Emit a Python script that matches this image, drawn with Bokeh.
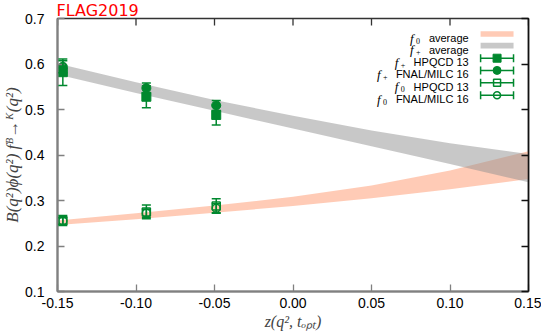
import numpy as np
from bokeh.plotting import figure
from bokeh.models import (Range1d, FixedTicker, PrintfTickFormatter, LinearAxis,
                          CustomJSTickFormatter, ColumnDataSource, Whisker, TeeHead, Label)
from bokeh.embed import file_html
from bokeh.resources import INLINE

# ---------------- data ----------------
z_pts = [-0.1466, -0.0934, -0.0489]
fplus_hpqcd = [0.582, 0.528, 0.488]
fplus_hpqcd_err = [0.029, 0.024, 0.022]
fplus_fnal = [0.594, 0.547, 0.509]
fplus_fnal_err = [0.013, 0.011, 0.011]
f0_hpqcd = [0.256, 0.275, 0.288]
f0_hpqcd_err = [0.011, 0.015, 0.016]
f0_fnal = [0.255, 0.272, 0.283]
f0_fnal_err = [0.007, 0.009, 0.010]

z_band = [-0.15, -0.10, -0.05, 0.0, 0.05, 0.10, 0.15]
fplus_band_hi = [0.601, 0.560, 0.521, 0.486, 0.454, 0.426, 0.402]
fplus_band_lo = [0.577, 0.536, 0.497, 0.458, 0.419, 0.380, 0.340]
f0_band_hi = [0.256, 0.272, 0.289, 0.308, 0.333, 0.366, 0.408]
f0_band_lo = [0.246, 0.259, 0.273, 0.288, 0.305, 0.325, 0.347]

x_ticks = [-0.15, -0.10, -0.05, 0.0, 0.05, 0.10, 0.15]
y_ticks = [0.1, 0.2, 0.3, 0.4, 0.5, 0.6, 0.7]

x_label = "z(q², tₒₚₜ)"
y_label = "B(q²)ϕ(q²) fᴮ→ᴷ(q²)"
logo = "FLAG2019"

legend_texts = ["average", "average", "HPQCD 13", "FNAL/MILC 16", "HPQCD 13", "FNAL/MILC 16"]
legend_subs = ["0", "+", "+", "+", "0", "0"]
legend_kinds = ["band_f0", "band_fp", "sq_fill", "ci_fill", "sq_open", "ci_open"]

# ---------------- style ----------------
GREEN = "#00882e"
PINK, PINK_A = "#ffa07a", 0.55
GREY, GREY_A = "#919191", 0.5
DARK = "#333333"

W, H = 541, 334
BL, BR, BT, BB = 56, 13, 16, 43
FW, FH = W - BL - BR, H - BT - BB
FB = H - BB  # frame bottom in page pixels

p = figure(width=W, height=H, output_backend="svg", toolbar_location=None,
           x_range=Range1d(-0.15, 0.15), y_range=Range1d(0.1, 0.7),
           min_border_left=BL, min_border_right=BR, min_border_top=BT,
           min_border_bottom=BB, background_fill_color="white",
           border_fill_color="white", title=logo)
p.title.text_color = "#ff0000"
p.title.text_font = "DejaVu Sans"
p.title.text_font_size = "16px"
p.title.text_font_style = "normal"
p.title.align = "left"
p.title.standoff = -3
p.title.offset = -1

p.outline_line_color = DARK
p.outline_line_width = 1.5
p.xgrid.visible = False
p.ygrid.visible = False
p.extra_x_ranges = {"lx": Range1d(0, FW)}
p.extra_y_ranges = {"ly": Range1d(0, FH)}

SERIF = "Liberation Serif"
SANS = "Liberation Sans"


def style_axis(ax, color, lw, show, fmt, ticks, standoff):
    ax.ticker = FixedTicker(ticks=ticks)
    if show:
        ax.formatter = PrintfTickFormatter(format=fmt)
    else:
        ax.formatter = CustomJSTickFormatter(code="return ''")
    ax.axis_line_color = color
    ax.axis_line_width = lw
    ax.major_tick_line_color = color
    ax.major_tick_line_width = 1.3
    ax.major_tick_in = 7
    ax.major_tick_out = 0
    ax.minor_tick_line_color = None
    ax.major_label_text_font = SANS
    ax.major_label_text_font_size = "14px"
    ax.major_label_text_color = "black"
    ax.major_label_standoff = standoff


xa = p.xaxis[0]
style_axis(xa, "#808080", 2, True, "%.2f", x_ticks, 6)
xa.axis_label = x_label
xa.axis_label_text_font = SERIF
xa.axis_label_text_font_style = "italic"
xa.axis_label_text_font_size = "16px"
xa.axis_label_standoff = 2

ya = p.yaxis[0]
style_axis(ya, "#808080", 2, True, "%.1f", y_ticks, 13)
ya.axis_label = y_label
ya.axis_label_text_font = SERIF
ya.axis_label_text_font_style = "italic"
ya.axis_label_text_font_size = "17px"
ya.axis_label_standoff = 0

right_ax = LinearAxis()
style_axis(right_ax, "#111111", 1.5, False, "%.1f", y_ticks, 0)
p.add_layout(right_ax, "right")

# top-edge tick marks (mirror of the x ticks), 7 px long, pointing inward
p.segment(x0=x_ticks, x1=x_ticks, y0=[FH] * len(x_ticks), y1=[FH - 7] * len(x_ticks),
          y_range_name="ly", line_color=DARK, line_width=1.3)

# ---------------- bands ----------------
p.varea(x=z_band, y1=f0_band_lo, y2=f0_band_hi, fill_color=PINK, fill_alpha=PINK_A)
p.varea(x=z_band, y1=fplus_band_lo, y2=fplus_band_hi, fill_color=GREY, fill_alpha=GREY_A)


# ---------------- error bars ----------------
def add_err(vals, errs):
    v = np.array(vals)
    e = np.array(errs)
    src = ColumnDataSource(dict(x=z_pts, lower=v - e, upper=v + e))
    w = Whisker(source=src, base="x", lower="lower", upper="upper",
                dimension="height", line_color=GREEN, line_width=1.5, level="overlay",
                upper_head=TeeHead(size=9, line_color=GREEN, line_width=1.5),
                lower_head=TeeHead(size=9, line_color=GREEN, line_width=1.5))
    p.add_layout(w)


for vals, errs in [(fplus_hpqcd, fplus_hpqcd_err), (fplus_fnal, fplus_fnal_err),
                   (f0_hpqcd, f0_hpqcd_err), (f0_fnal, f0_fnal_err)]:
    add_err(vals, errs)

p.scatter(z_pts, fplus_hpqcd, marker="square", size=9, color=GREEN)
p.scatter(z_pts, fplus_fnal, marker="circle", size=9, color=GREEN)
p.scatter(z_pts, f0_hpqcd, marker="square", size=8, line_color=GREEN,
          fill_color=None, line_width=1.5)
p.scatter(z_pts, f0_fnal, marker="circle", size=8, line_color=GREEN,
          fill_color=None, line_width=1.5)

# ---------------- text helpers ----------------
ARIAL = {'a': 556, 'v': 500, 'e': 556, 'r': 333, 'g': 556, 'H': 722, 'P': 667,
         'Q': 778, 'C': 722, 'D': 722, '1': 556, '3': 556, '6': 556, 'F': 611,
         'N': 722, 'A': 667, 'L': 556, '/': 278, 'M': 833, 'I': 278, ' ': 278}


def tw(s, table, size):
    return sum(table.get(c, 556) for c in s) * size / 1000.0


def lab(x, y, text, font, size, style="normal", align="left",
        baseline="alphabetic", color="black"):
    p.add_layout(Label(x=x, y=y, x_range_name="lx", y_range_name="ly", text=text,
                       text_font=font, text_font_size=f"{size}px",
                       text_font_style=style, text_align=align,
                       text_baseline=baseline, text_color=color))


# ---------------- legend ----------------
row_y = [FB - yw for yw in [31.7, 43.3, 56.0, 68.3, 80.7, 93.3]]
text_right = 468 - BL
sx0, sx1 = 480 - BL, 513 - BL
sxc = (sx0 + sx1) / 2

for txt, sub, kind, ry in zip(legend_texts, legend_subs, legend_kinds, row_y):
    wt = tw(txt, ARIAL, 11)
    tstart = text_right - wt
    lab(text_right, ry - 4, txt, SANS, 11, align="right")
    lab(tstart - 19, ry - 4, "f", SERIF, 13, style="italic")
    lab(tstart - 13, ry - 6.5, sub, SERIF, 8)
    if kind == "band_f0":
        p.quad(left=[sx0], right=[sx1], top=[ry + 2.8], bottom=[ry - 2.8],
               x_range_name="lx", y_range_name="ly", fill_color=PINK,
               fill_alpha=PINK_A, line_color=None)
    elif kind == "band_fp":
        p.quad(left=[sx0], right=[sx1], top=[ry + 2.8], bottom=[ry - 2.8],
               x_range_name="lx", y_range_name="ly", fill_color=GREY,
               fill_alpha=GREY_A, line_color=None)
    else:
        src = ColumnDataSource(dict(base=[ry], lower=[sx0], upper=[sx1]))
        p.add_layout(Whisker(source=src, base="base", lower="lower", upper="upper",
                             dimension="width", x_range_name="lx", y_range_name="ly",
                             line_color=GREEN, line_width=1.5, level="overlay",
                             upper_head=TeeHead(size=8, line_color=GREEN, line_width=1.5),
                             lower_head=TeeHead(size=8, line_color=GREEN, line_width=1.5)))
        marker = "square" if kind.startswith("sq") else "circle"
        if kind.endswith("fill"):
            p.scatter([sxc], [ry], marker=marker, size=8, color=GREEN,
                      x_range_name="lx", y_range_name="ly")
        else:
            p.scatter([sxc], [ry], marker=marker, size=7, line_color=GREEN,
                      fill_color="white", line_width=1.5,
                      x_range_name="lx", y_range_name="ly")

open("out.html", "w").write(file_html(p, INLINE))
